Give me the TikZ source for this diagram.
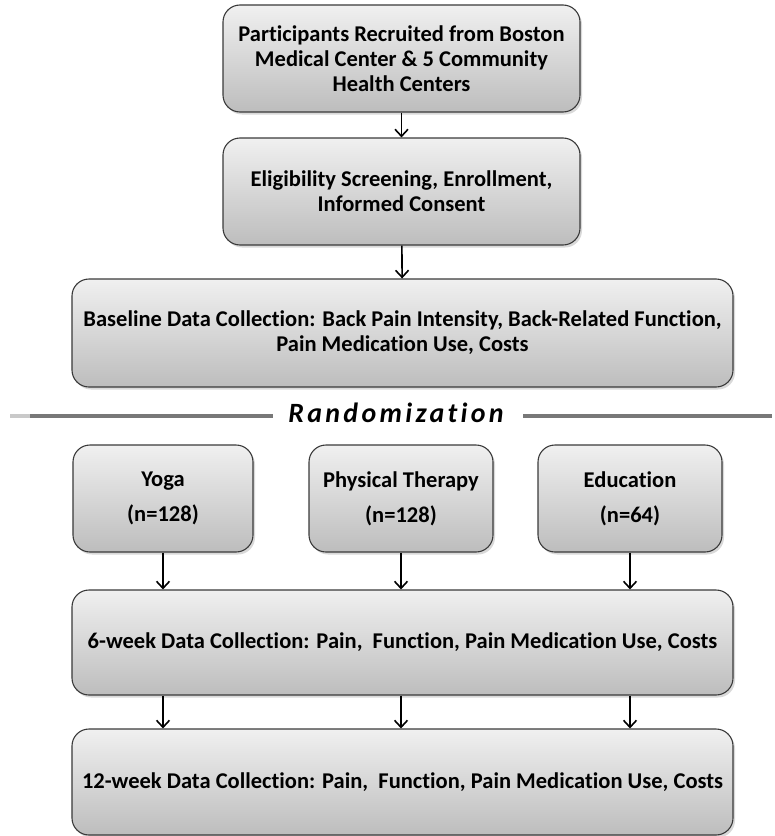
\documentclass[tikz,border=0pt]{standalone}
\usepackage{fontspec}
\setmainfont[Ligatures=NoCommon]{Carlito}
\newfontfamily\randfont[LetterSpace=12,Ligatures=NoCommon]{Carlito}
\usetikzlibrary{arrows.meta,shadows}

\definecolor{boxtop}{HTML}{F0F0F0}
\definecolor{boxbot}{HTML}{BDBDBD}
\definecolor{boxline}{HTML}{3A3A3A}
\definecolor{rule}{HTML}{787878}

\tikzset{
  stagebox/.style={
    rectangle, rounded corners=17bp, draw=boxline, line width=1.1bp,
    top color=boxtop, bottom color=boxbot,
    drop shadow={opacity=0.3, shadow xshift=2bp, shadow yshift=-2.5bp},
    align=center, inner sep=0pt,
    font=\bfseries\fontsize{22.6}{25}\selectfont
  },
  armbox/.style={stagebox, font=\bfseries\fontsize{22.6}{35}\selectfont},
  flow/.style={draw=black, line width=1.6bp, -{Straight Barb[length=7bp,width=13bp,line width=1.6bp]}}
}

\begin{document}
\begin{tikzpicture}[x=1bp,y=-1bp]
\useasboundingbox (0,0) rectangle (775,836);

% intake stages
\node[stagebox, minimum width=357bp, minimum height=107bp] (recruit) at (401.5,58.5)
  {Participants Recruited from Boston\\Medical Center \& 5 Community\\Health Centers};
\node[stagebox, minimum width=357bp, minimum height=107bp] (screen) at (401.5,191.5)
  {Eligibility Screening, Enrollment,\\Informed Consent};
\node[stagebox, minimum width=661bp, minimum height=108bp] (baseline) at (402.5,333)
  {Baseline Data Collection: Back Pain Intensity, Back-Related Function,\\Pain Medication Use, Costs};

% randomization divider
\node[inner sep=0pt, font=\randfont\bfseries\itshape\fontsize{28}{30}\selectfont] (rand) at (396,413) {Randomization};
\coordinate (ruleLfade) at (10,416);
\coordinate (ruleL) at (30,416);
\coordinate (ruleLend) at (273,416);
\coordinate (ruleRstart) at (523,416);
\coordinate (ruleR) at (772,416);
\draw[rule!40, line width=4bp] (ruleLfade) -- (ruleL);
\draw[rule, line width=3.5bp] (ruleL) -- (ruleLend);
\draw[rule, line width=3.5bp] (ruleRstart) -- (ruleR);

% treatment arms
\node[armbox, minimum width=180bp, minimum height=107bp] (yoga) at (163,498.5)
  {Yoga\\(n=128)};
\node[armbox, minimum width=184bp, minimum height=107bp] (pt) at (401,498.5)
  {Physical Therapy\\(n=128)};
\node[armbox, minimum width=184bp, minimum height=107bp] (edu) at (630,498.5)
  {Education\\(n=64)};

% follow-up stages
\node[stagebox, minimum width=661bp, minimum height=105bp] (wk6) at (402.5,642.5)
  {6-week Data Collection: Pain,~ Function, Pain Medication Use, Costs};
\node[stagebox, minimum width=661bp, minimum height=106bp] (wk12) at (402.5,782)
  {12-week Data Collection: Pain,~ Function, Pain Medication Use, Costs};

% connectors
\draw[flow] (recruit) -- (screen);
\draw[flow] (screen) -- (baseline);
\draw[flow] (yoga.south) -- (yoga.south |- wk6.north);
\draw[flow] (pt.south) -- (pt.south |- wk6.north);
\draw[flow] (edu.south) -- (edu.south |- wk6.north);
\draw[flow] (wk6.south -| yoga.south) -- (yoga.south |- wk12.north);
\draw[flow] (wk6.south -| pt.south) -- (pt.south |- wk12.north);
\draw[flow] (wk6.south -| edu.south) -- (edu.south |- wk12.north);
\end{tikzpicture}
\end{document}
